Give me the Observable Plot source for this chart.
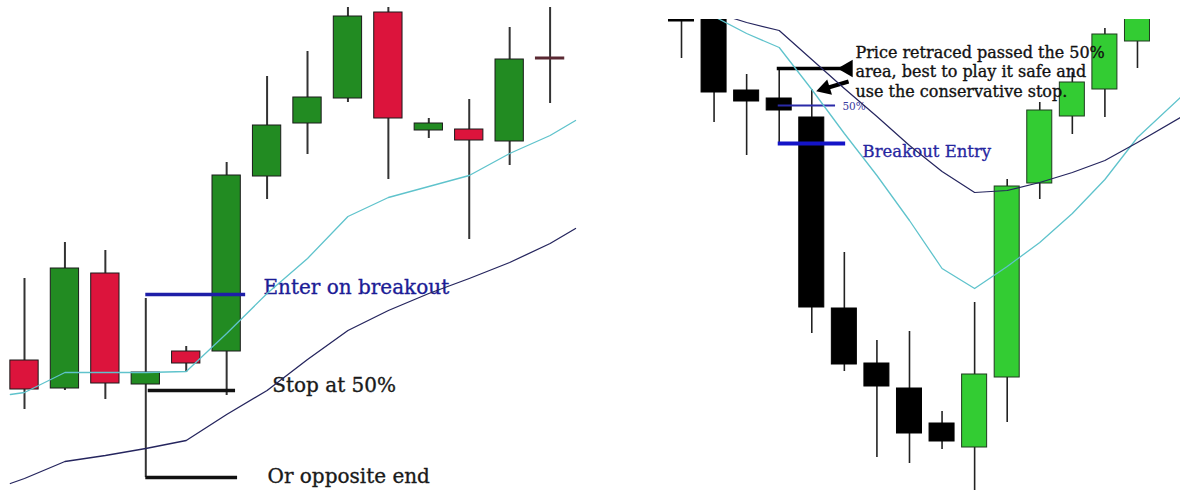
<!DOCTYPE html>
<html><head><meta charset="utf-8">
<script src="https://cdn.jsdelivr.net/npm/d3@7"></script>
<script src="https://cdn.jsdelivr.net/npm/@observablehq/plot@0.6"></script>
<style>
html,body{margin:0;padding:0;background:#fff;}
#wrap{position:relative;width:1180px;height:490px;overflow:hidden;background:#fff;}
#left{position:absolute;left:0;top:0;}
#right{position:absolute;left:660px;top:0;}
svg{display:block;}
</style></head><body>
<div id="wrap"><div id="left"></div><div id="right"></div></div>
<script>
// ---------- LEFT PANEL DATA (bar index, price units) ----------
const leftOpen  = [130,102,217,106,139,139,314,367,392,478,360,361,349,433];
const leftClose = [101,222,107,118,127,315,365,393,474,372,367,350,431,431];
const leftHigh  = [212,248,240,192,144,328,414,439,495,495,372,391,463,495];
const leftLow   = [ 81,100, 91, 13,118, 95,291,336,388,311,352,251,325,387];
const leftMaX    = [-0.35,0,1,2,3,4,5,6,7,8,9,10,11,12,13,13.63];
const leftMaFast = [96,98,118,118,118,119,157,197,232,274,293,304,315,337,355,370];
const leftMaSlow = [7,12,29,35,42,50,76,100,131,160,180,197,212,228,247,262];
const leftEntry = 196, leftStop = 100, leftOpposite = 13;
const leftLabels = ["Enter on breakout", "Stop at 50%", "Or opposite end"];

// ---------- RIGHT PANEL DATA ----------
const rightOpen  = [471,475,400,392,373,182,127,102, 67, 43,113,307,374,401,449];
const rightClose = [469,398,389,380,183,126,104, 57, 49,116,304,380,408,456,475];
const rightHigh  = [471,480,416,422,401,238,150,159, 79,188,311,388,418,462,480];
const rightLow   = [432,368,335,347,157,119, 33, 27, 41, -5, 68,291,356,373,422];
const rightMaFastX = [1,2,3,4,5,6,7,8,9,10,11,12,13,14,15.32];
const rightMaFast  = [474,457,443,401,357,315,270,222,202,224,248,277,311,353,393];
const rightMaSlowX = [1.6,2,3,4,5,6,7,8,9,10,11,12,13,14,15.32];
const rightMaSlow  = [472,468,460,431,402,374,345,319,298,300,308,318,330,348,373];
const rightStop = 422, rightHalf = 385, rightEntry = 347;
const rightNote = ["Price retraced passed the 50%", "area, best to play it safe and", "use the conservative stop."];
const rightLabels = ["50%", "Breakout Entry"];

function candles(o, c, h, l) {
  return o.map((v, i) => ({i, open: v, close: c[i], high: h[i], low: l[i]}));
}
function series(xs, ys) { return xs.map((x, k) => ({x, y: ys[k]})); }

const L = candles(leftOpen, leftClose, leftHigh, leftLow);
const R = candles(rightOpen, rightClose, rightHigh, rightLow);
const serif = "DejaVu Serif";

const leftColor = d => Math.abs(d.close - d.open) < 3 ? "#5a2832" : (d.close > d.open ? "#228b22" : "#dc143c");
const rightColor = d => d.close > d.open ? "#33cc33" : "#000000";

const left = Plot.plot({
  width: 580, height: 490,
  marginTop: 7, marginBottom: 0, marginLeft: 0, marginRight: 0,
  x: {domain: [-0.5936, 13.752], axis: null},
  y: {domain: [0, 483], axis: null},
  style: {background: "#fff", overflow: "visible"},
  marks: [
    Plot.ruleX(L, {x: "i", y1: "low", y2: "high", stroke: "#333", strokeWidth: 2, clip: true}),
    Plot.rect(L, {x1: d => d.i - 0.35, x2: d => d.i + 0.35, y1: "open", y2: "close",
      fill: leftColor, stroke: d => Math.abs(d.close - d.open) < 3 ? "#5a2832" : "#1a1a1a", strokeWidth: 1, clip: true}),
    Plot.ruleY([leftEntry], {x1: 3, x2: 5.47, stroke: "#1e1ea8", strokeWidth: 3.5}),
    Plot.ruleY([leftStop], {x1: 3.06, x2: 5.22, stroke: "#111", strokeWidth: 3.5}),
    Plot.ruleY([leftOpposite], {x1: 3, x2: 5.27, stroke: "#111", strokeWidth: 3.5}),
    Plot.text([leftLabels[0]], {x: 5.91, y: leftEntry, dy: -7, text: d => d, textAnchor: "start",
      fontFamily: serif, fontSize: 20, fill: "#1c1c96", stroke: "#1c1c96", strokeWidth: 0.35}),
    Plot.text([leftLabels[1]], {x: 6.13, y: leftStop, dy: -4.5, text: d => d, textAnchor: "start",
      fontFamily: serif, fontSize: 20, fill: "#1a1a1a", stroke: "#1a1a1a", strokeWidth: 0.35}),
    Plot.text([leftLabels[2]], {x: 6.01, y: leftOpposite, dy: -0.5, text: d => d, textAnchor: "start",
      fontFamily: serif, fontSize: 20, fill: "#1a1a1a", stroke: "#1a1a1a", strokeWidth: 0.35}),
    Plot.line(series(leftMaX, leftMaFast), {x: "x", y: "y", stroke: "#5fc3cc", strokeWidth: 1.3, clip: true}),
    Plot.line(series(leftMaX, leftMaSlow), {x: "x", y: "y", stroke: "#25255e", strokeWidth: 1.3, clip: true})
  ]
});
document.getElementById("left").appendChild(left);

const right = Plot.plot({
  width: 520, height: 490,
  marginTop: 19, marginBottom: 0, marginLeft: 0, marginRight: 0,
  x: {domain: [-0.6448, 15.321], axis: null},
  y: {domain: [0, 471], axis: null},
  style: {background: "#fff", overflow: "visible"},
  marks: [
    Plot.ruleX(R, {x: "i", y1: "low", y2: "high", stroke: "#222", strokeWidth: 1.6, clip: true}),
    Plot.rect(R, {x1: d => d.i - 0.384, x2: d => d.i + 0.384, y1: "open", y2: "close",
      fill: rightColor, stroke: d => d.close > d.open ? "#1f3a1f" : "#000", strokeWidth: 1, clip: true}),
    Plot.ruleY([rightStop], {x1: 2.94, x2: 5.0, stroke: "#000", strokeWidth: 3.5}),
    Plot.dot([rightStop], {x: 5.10, y: d => d, symbol: "triangle", rotate: -90, r: 6.5, fill: "#000", stroke: "none"}),
    Plot.link([0], {x1: 5.13, y1: 409, x2: 4.41, y2: 402, stroke: "#000", strokeWidth: 4}),
    Plot.dot([0], {x: 4.41, y: 402, symbol: "triangle", rotate: -107, r: 6, fill: "#000", stroke: "none"}),
    Plot.ruleY([rightHalf], {x1: 2.97, x2: 4.73, stroke: "#2a2aa8", strokeWidth: 2}),
    Plot.ruleY([rightEntry], {x1: 2.97, x2: 5.04, stroke: "#1414c8", strokeWidth: 4}),
    Plot.text([rightLabels[0]], {x: 4.94, y: rightHalf, dy: 1, text: d => d, textAnchor: "start",
      fontFamily: serif, fontSize: 10.5, fill: "#3a3aa0"}),
    Plot.text([rightLabels[1]], {x: 5.56, y: rightEntry, dy: 8.7, text: d => d, textAnchor: "start",
      fontFamily: serif, fontSize: 16.5, fill: "#2626a0", stroke: "#2626a0", strokeWidth: 0.3}),
    Plot.text([rightNote.join("\n")], {x: 5.34, y: rightStop, dy: 2.4, text: d => d, textAnchor: "start",
      lineAnchor: "middle", lineHeight: 1.22, fontFamily: serif, fontSize: 16, fill: "#111", stroke: "#111", strokeWidth: 0.35}),
    Plot.line(series(rightMaFastX, rightMaFast), {x: "x", y: "y", stroke: "#5fc3cc", strokeWidth: 1.3, clip: true}),
    Plot.line(series(rightMaSlowX, rightMaSlow), {x: "x", y: "y", stroke: "#25255e", strokeWidth: 1.2, clip: true})
  ]
});
document.getElementById("right").appendChild(right);
</script>
</body></html>
